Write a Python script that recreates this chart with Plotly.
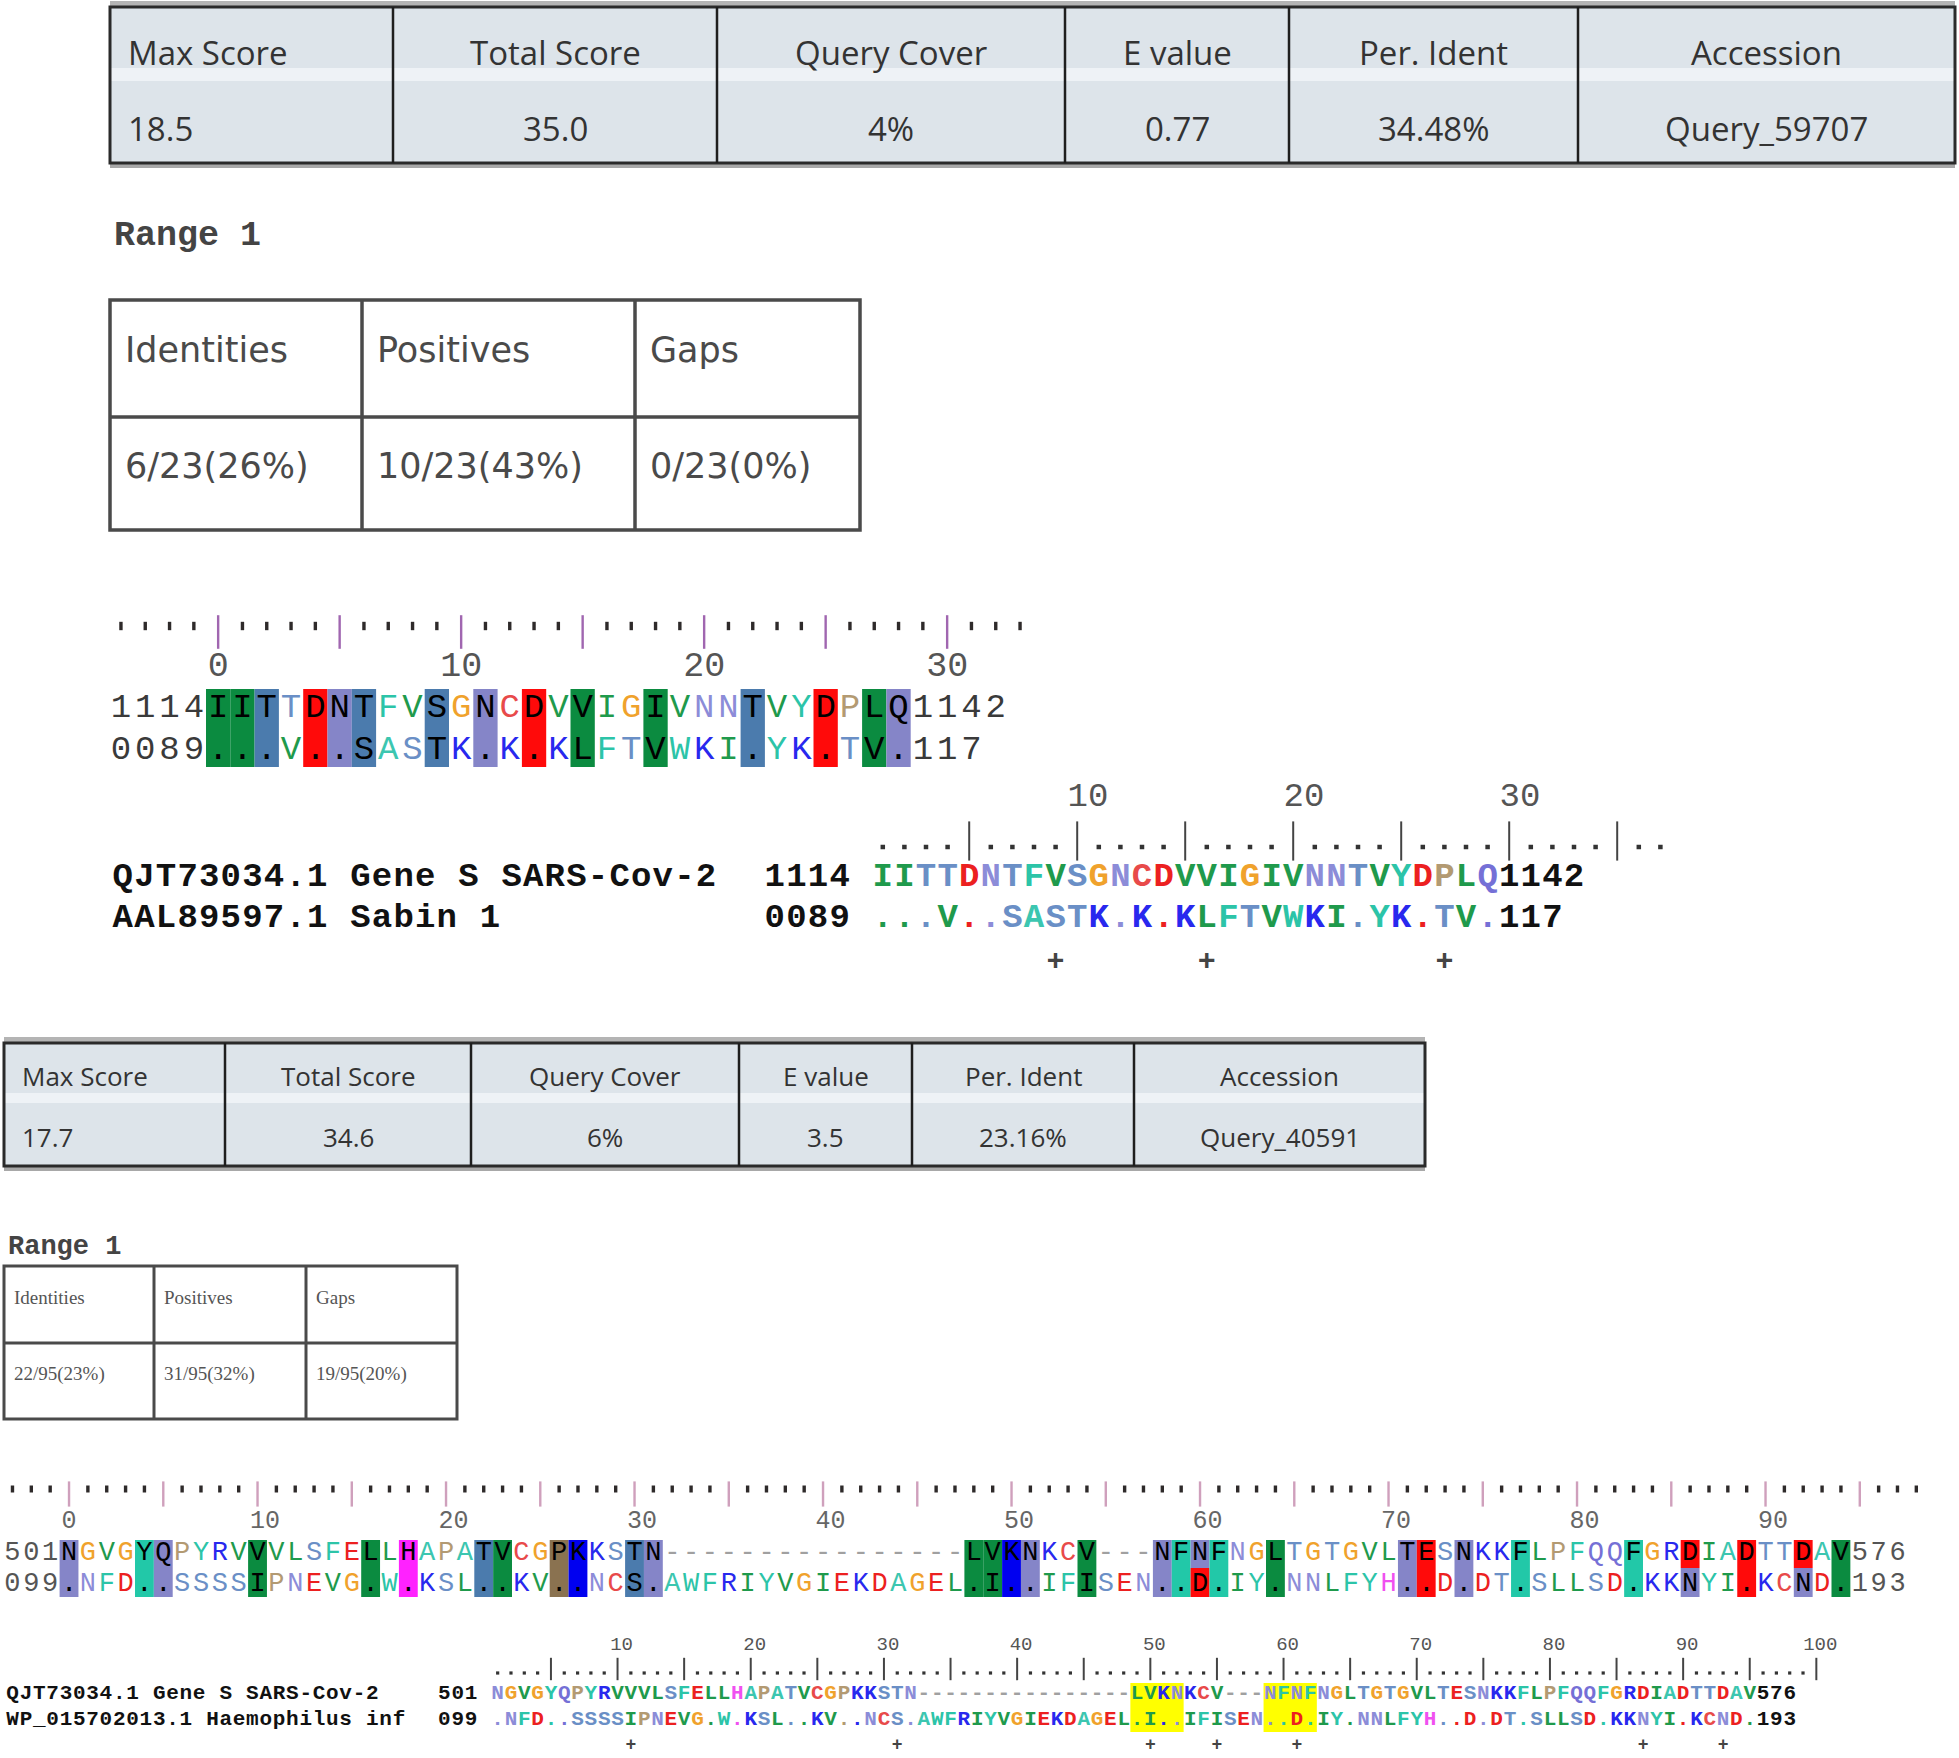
import plotly.graph_objects as go

# ======================= DATA =======================
hit1_table_headers = ["Max Score", "Total Score", "Query Cover", "E value", "Per. Ident", "Accession"]
hit1_table_values = ["18.5", "35.0", "4%", "0.77", "34.48%", "Query_59707"]
hit1_range_title = "Range 1"
hit1_range_headers = ["Identities", "Positives", "Gaps"]
hit1_range_values = ["6/23(26%)", "10/23(43%)", "0/23(0%)"]
hit1_query_name = "QJT73034.1 Gene S SARS-Cov-2"
hit1_subject_name = "AAL89597.1 Sabin 1"
hit1_query_start, hit1_query_end = "1114", "1142"
hit1_subject_start, hit1_subject_end = "0089", "117"
hit1_query_seq = "IITTDNTFVSGNCDVVIGIVNNTVYDPLQ"
hit1_subject_seq = "...V..SASTK.K.KLFTVWKI.YK.TV."
hit1_block_cols = [0, 1, 2, 4, 5, 6, 9, 11, 13, 15, 18, 22, 25, 27, 28]
hit1_block_class = ["hyd", "hyd", "st", "acid", "amide", "st", "st", "amide", "acid",
                    "hyd", "hyd", "st", "acid", "hyd", "amide"]
hit1_block_ruler_labels = ["0", "10", "20", "30"]
hit1_block_ruler_cols = [0, 10, 20, 30]
hit1_text_ruler_labels = ["10", "20", "30"]
hit1_text_ruler_pos = [10, 20, 30]
hit1_plus_cols = [8, 15, 26]

hit2_table_headers = ["Max Score", "Total Score", "Query Cover", "E value", "Per. Ident", "Accession"]
hit2_table_values = ["17.7", "34.6", "6%", "3.5", "23.16%", "Query_40591"]
hit2_range_title = "Range 1"
hit2_range_headers = ["Identities", "Positives", "Gaps"]
hit2_range_values = ["22/95(23%)", "31/95(32%)", "19/95(20%)"]
hit2_query_name = "QJT73034.1 Gene S SARS-Cov-2"
hit2_subject_name = "WP_015702013.1 Haemophilus inf"
hit2_query_start, hit2_query_end = "501", "576"
hit2_subject_start, hit2_subject_end = "099", "193"
hit2_query_seq = ("NGVGYQPYRVVVLSFELLHAPATVCGPKKSTN" + "----------------" + "LVKNKCV" + "---"
                  + "NFNFNGLTGTGVLTESNKKFLPFQQFGRDIADTTDAV")
hit2_subject_seq = (".NFD..SSSSIPNEVG.W.KSL..KV..NCS." + "AWFRIYVGIEKDAGEL" + ".I..IFISEN"
                    + "..D.IY.NNLFYH" + "..D.DT.SLLSD." + "KKNYI.KCND.")
hit2_block_cols = [0, 4, 5, 10, 16, 18, 22, 23, 26, 27, 30, 31, 48, 49, 50, 51, 54, 58, 59, 60, 61,
                   64, 71, 72, 74, 77, 83, 86, 89, 92, 94]
hit2_block_top = ["amide", "arom", "amide", "hyd", "hyd", "his", "st", "hyd", "pro", "basic", "st",
                  "amide", "hyd", "hyd", "basic", "amide", "hyd", "amide", "arom", "amide", "arom",
                  "hyd", "amide", "acid", "amide", "arom", "arom", "acid", "acid", "acid", "hyd"]
hit2_block_bottom = ["amide", "arom", "amide", "hyd", "hyd", "his", "st", "hyd", "pro", "basic", "st",
                     "amide", "hyd", "hyd", "basic", "amide", "hyd", "amide", "arom", "acid", "arom",
                     "hyd", "amide", "acid", "amide", "arom", "arom", "amide", "acid", "amide", "hyd"]
hit2_highlight_ranges = [(48, 51), (58, 61)]
hit2_block_ruler_labels = ["0", "10", "20", "30", "40", "50", "60", "70", "80", "90"]
hit2_block_ruler_cols = [0, 10, 20, 30, 40, 50, 60, 70, 80, 90]
hit2_text_ruler_labels = ["10", "20", "30", "40", "50", "60", "70", "80", "90", "100"]
hit2_text_ruler_pos = [10, 20, 30, 40, 50, 60, 70, 80, 90, 100]
hit2_plus_cols = [10, 30, 49, 54, 60, 86, 92]

# ======================= STYLE =======================
W, H = 1959, 1758
MONO = "Liberation Mono, DejaVu Sans Mono, monospace"
SANS = "Open Sans, Noto Sans, sans-serif"
VERD = "DejaVu Sans, Verdana, sans-serif"
SERIF = "Liberation Serif, serif"

RES_COLOR = {}
for c in "ILVM":
    RES_COLOR[c] = "#1f9a4c"
for c in "FYW":
    RES_COLOR[c] = "#2cc4a8"
RES_COLOR.update({"A": "#3cc6b0", "H": "#f050f0", "S": "#6a8fc6", "T": "#6a8fc6",
                  "N": "#8c8cd8", "Q": "#7570d6", "D": "#ec2020", "E": "#ec2020",
                  "K": "#2828ee", "R": "#2828ee", "G": "#f0a22c", "P": "#b39a72",
                  "C": "#e84a4a", "-": "#a0a0a0"})
BLOCK_COLOR = {"hyd": "#0b8b40", "st": "#4b7bad", "amide": "#8585c8", "acid": "#ff0a0a",
               "arom": "#22c8a8", "basic": "#0000f0", "his": "#ff22ff", "pro": "#8a7250"}

fig = go.Figure()
shapes = []
annotations = []


def rect(x0, y0, x1, y1, fill=None, line_color=None, lw=0, layer="below"):
    shapes.append(dict(type="rect", xref="x", yref="y", x0=x0, y0=y0, x1=x1, y1=y1,
                       fillcolor=fill or "rgba(0,0,0,0)",
                       line=dict(color=line_color or "rgba(0,0,0,0)", width=lw), layer=layer))


def seg(x0, y0, x1, y1, color, lw, layer="above"):
    shapes.append(dict(type="line", xref="x", yref="y", x0=x0, y0=y0, x1=x1, y1=y1,
                       line=dict(color=color, width=lw), layer=layer))


def chars_trace(xs, ys, chars, colors, size, bold=False, family=MONO):
    fig.add_trace(go.Scatter(x=xs, y=ys, mode="text", text=chars, textposition="middle center",
                             textfont=dict(family=family, size=size, color=colors,
                                           weight="bold" if bold else "normal"),
                             hoverinfo="skip", showlegend=False, cliponaxis=False))


def string_at(s, x_left, y, cw, size, color, bold=False):
    xs = [x_left + cw * (k + 0.5) for k in range(len(s))]
    chars_trace(xs, [y] * len(s), list(s), color, size, bold)


def label(x, y, text, size, color, family, xanchor="center", bold=False):
    annotations.append(dict(x=x, y=y, xref="x", yref="y", text=("<b>%s</b>" % text) if bold else text,
                            showarrow=False, xanchor=xanchor, yanchor="middle",
                            font=dict(family=family, size=size, color=color)))


def seq_colors(seq, ref, blocked):
    out = []
    for i, ch in enumerate(seq):
        if i in blocked:
            out.append("#000000")
        elif ch == ".":
            out.append(RES_COLOR.get(ref[i], "#444444"))
        else:
            out.append(RES_COLOR.get(ch, "#444444"))
    return out


def marks(xs, y, symbol, size, color, lw):
    fig.add_trace(go.Scatter(x=xs, y=[y] * len(xs), mode="markers",
                             marker=dict(symbol=symbol, size=size, color=color,
                                         line=dict(color=color, width=lw)),
                             hoverinfo="skip", showlegend=False, cliponaxis=False))


def hit_table(xe, y_top, y_bot, band, headers, values, y_h, y_v, fs):
    rect(xe[0], y_top - 6, xe[-1], y_top, fill="#b4b4b4")
    rect(xe[0], y_top, xe[-1], y_bot, fill="#dde4ea")
    rect(xe[0], band[0], xe[-1], band[1], fill="#eef2f6")
    rect(xe[0], y_bot, xe[-1], y_bot + 5, fill="#a8a8a8")
    rect(xe[0], y_top, xe[-1], y_bot, line_color="#2a2a2a", lw=3, layer="above")
    for x in xe[1:-1]:
        seg(x, y_top, x, y_bot, "#1e1e1e", 2.5)
    for k, (hd, vl) in enumerate(zip(headers, values)):
        if k == 0:
            label(xe[0] + 16, y_h, hd, fs, "#333333", SANS, "left")
            label(xe[0] + 16, y_v, vl, fs, "#333333", SANS, "left")
        else:
            cx = (xe[k] + xe[k + 1]) / 2
            label(cx, y_h, hd, fs, "#333333", SANS)
            label(cx, y_v, vl, fs, "#333333", SANS)


def range_table(xe, ye, headers, values, y_h, y_v, fs, family, color, lw, pad):
    rect(xe[0], ye[0], xe[-1], ye[-1], line_color="#4a4a4a", lw=lw, layer="above")
    seg(xe[0], ye[1], xe[-1], ye[1], "#4a4a4a", lw)
    for x in xe[1:-1]:
        seg(x, ye[0], x, ye[-1], "#4a4a4a", lw)
    for k, (hd, vl) in enumerate(zip(headers, values)):
        label(xe[k] + pad, y_h, hd, fs, color, family, "left")
        label(xe[k] + pad, y_v, vl, fs, color, family, "left")


def block_view(qseq, sseq, bcols, btop, bbot, x0, cw, fs, y1, y2, yb0, yb1, ymid,
               qs, qe, ss, se, ruler_range, y_dot, dot_size, tick_size, y_tick, tick_color,
               lab_cols, labs, y_lab, lab_fs, lab_shift, lab_color, num_color):
    cx = lambda i: x0 + cw * (i + 0.5)
    for c, t, b in zip(bcols, btop, bbot):
        if t == b:
            rect(x0 + cw * c, yb0, x0 + cw * (c + 1), yb1, fill=BLOCK_COLOR[t])
        else:
            rect(x0 + cw * c, yb0, x0 + cw * (c + 1), ymid, fill=BLOCK_COLOR[t])
            rect(x0 + cw * c, ymid, x0 + cw * (c + 1), yb1, fill=BLOCK_COLOR[b])
    blocked = set(bcols)
    n = len(qseq)
    chars_trace([cx(i) for i in range(n)], [y1] * n, list(qseq), seq_colors(qseq, qseq, blocked), fs)
    chars_trace([cx(i) for i in range(n)], [y2] * n, list(sseq), seq_colors(sseq, qseq, blocked), fs)
    string_at(qs, x0 - cw * len(qs), y1, cw, fs, num_color)
    string_at(ss, x0 - cw * len(ss), y2, cw, fs, num_color)
    string_at(qe, x0 + cw * n, y1, cw, fs, num_color)
    string_at(se, x0 + cw * n, y2, cw, fs, num_color)
    cols = list(range(ruler_range[0], ruler_range[1] + 1))
    marks([cx(c) for c in cols if c % 5 != 0], y_dot, "line-ns", dot_size, "#2e2a2a", 3.4)
    marks([cx(c) for c in cols if c % 5 == 0], y_tick, "line-ns", tick_size, tick_color, 2.4)
    chars_trace([cx(c) + lab_shift * (len(l) - 1) for c, l in zip(lab_cols, labs)], [y_lab] * len(labs),
                labs, lab_color, lab_fs, bold=False)


def text_view(qseq, sseq, x0, cw, fs, y1, y2, qname, sname, x_name, qs, qe, ss, se, pos_col,
              ruler_last, y_dot, y_tick, tick_size, dot_size, lab_pos, labs, y_lab, lab_fs, lab_off,
              plus_cols, y_plus, plus_fs, highlights=(), hy=(0, 0)):
    cx = lambda i: x0 + cw * (i + 0.5)
    for a, b in highlights:
        rect(x0 + cw * a, hy[0], x0 + cw * (b + 1), hy[1], fill="#ffff00")
    n = len(qseq)
    string_at(qname, x_name, y1, cw, fs, "#111111", bold=True)
    string_at(sname, x_name, y2, cw, fs, "#111111", bold=True)
    string_at(qs, x0 + cw * pos_col, y1, cw, fs, "#111111", bold=True)
    string_at(ss, x0 + cw * pos_col, y2, cw, fs, "#111111", bold=True)
    chars_trace([cx(i) for i in range(n)], [y1] * n, list(qseq), seq_colors(qseq, qseq, set()), fs, bold=True)
    chars_trace([cx(i) for i in range(n)], [y2] * n, list(sseq), seq_colors(sseq, qseq, set()), fs, bold=True)
    string_at(qe, x0 + cw * n, y1, cw, fs, "#111111", bold=True)
    string_at(se, x0 + cw * n, y2, cw, fs, "#111111", bold=True)
    cols = list(range(0, ruler_last + 1))
    marks([cx(c) for c in cols if (c + 1) % 5 != 0], y_dot, "square", dot_size, "#333333", 0)
    marks([cx(c) for c in cols if (c + 1) % 5 == 0], y_tick, "line-ns", tick_size, "#444444", 2)
    chars_trace([cx(p - 1) + lab_off * cw for p in lab_pos], [y_lab] * len(labs), labs, "#555555", lab_fs)
    chars_trace([cx(c) for c in plus_cols], [y_plus] * len(plus_cols), ["+"] * len(plus_cols),
                "#444444", plus_fs, bold=True)


# ======================= HIT 1 =======================
hit_table([110, 393, 717, 1065, 1289, 1578, 1955], 7, 163, (68, 81), hit1_table_headers,
          hit1_table_values, 52, 128, 33)
label(112, 236, hit1_range_title, 35, "#444444", MONO, "left", bold=True)
range_table([110, 362, 635, 860], [300, 417, 530], hit1_range_headers, hit1_range_values,
            350, 466, 35, VERD, "#4a4a4a", 3.5, 13)

CW1 = 24.3
block_view(hit1_query_seq, hit1_subject_seq, hit1_block_cols, hit1_block_class, hit1_block_class,
           206, CW1, 34, 708, 750, 689, 767, 728,
           hit1_query_start, hit1_query_end, hit1_subject_start, hit1_subject_end,
           (-4, 33), 626, 6, 24, 632, "#a066b0",
           hit1_block_ruler_cols, hit1_block_ruler_labels, 667, 35, 0, "#555555", "#3a3a3a")

CW2 = 21.6
text_view(hit1_query_seq, hit1_subject_seq, 872, CW2, 34, 877, 918,
          hit1_query_name, hit1_subject_name, 112, hit1_query_start, hit1_query_end,
          hit1_subject_start, hit1_subject_end, -5, 36, 847, 841, 28, 4.5,
          hit1_text_ruler_pos, hit1_text_ruler_labels, 797, 34, 0.5,
          hit1_plus_cols, 962, 30)

# ======================= HIT 2 =======================
hit_table([4, 225, 471, 739, 912, 1134, 1425], 1043, 1166, (1093, 1103), hit2_table_headers,
          hit2_table_values, 1076, 1137, 26)
label(6, 1247, hit2_range_title, 27, "#444444", MONO, "left", bold=True)
range_table([4, 154, 306, 457], [1266, 1343, 1419], hit2_range_headers, hit2_range_values,
            1297, 1374, 19, SERIF, "#555555", 3, 8)

CW3 = 18.85
block_view(hit2_query_seq, hit2_subject_seq, hit2_block_cols, hit2_block_top, hit2_block_bottom,
           59.6, CW3, 27, 1553, 1584, 1540, 1597, 1568,
           hit2_query_start, hit2_query_end, hit2_subject_start, hit2_subject_end,
           (-3, 98), 1489, 5, 18, 1494, "#cfa0bc",
           hit2_block_ruler_cols, hit2_block_ruler_labels, 1522, 25, 7.5, "#666666", "#555555")

CW4 = 13.32
text_view(hit2_query_seq, hit2_subject_seq, 491, CW4, 21, 1694, 1720,
          hit2_query_name, hit2_subject_name, 6, hit2_query_start, hit2_query_end,
          hit2_subject_start, hit2_subject_end, -4, 99, 1673, 1669, 16, 3.2,
          hit2_text_ruler_pos, hit2_text_ruler_labels, 1645, 19, 0.3,
          hit2_plus_cols, 1745, 18, highlights=hit2_highlight_ranges, hy=(1683, 1732))

fig.update_layout(
    width=W, height=H, margin=dict(l=0, r=0, t=0, b=0),
    paper_bgcolor="white", plot_bgcolor="white", showlegend=False,
    xaxis=dict(range=[0, W], visible=False, fixedrange=True),
    yaxis=dict(range=[H, 0], visible=False, fixedrange=True),
    shapes=shapes, annotations=annotations,
)

fig.write_html("out.html", config={"displayModeBar": False},
               post_script="document.body.style.margin='0px';")
